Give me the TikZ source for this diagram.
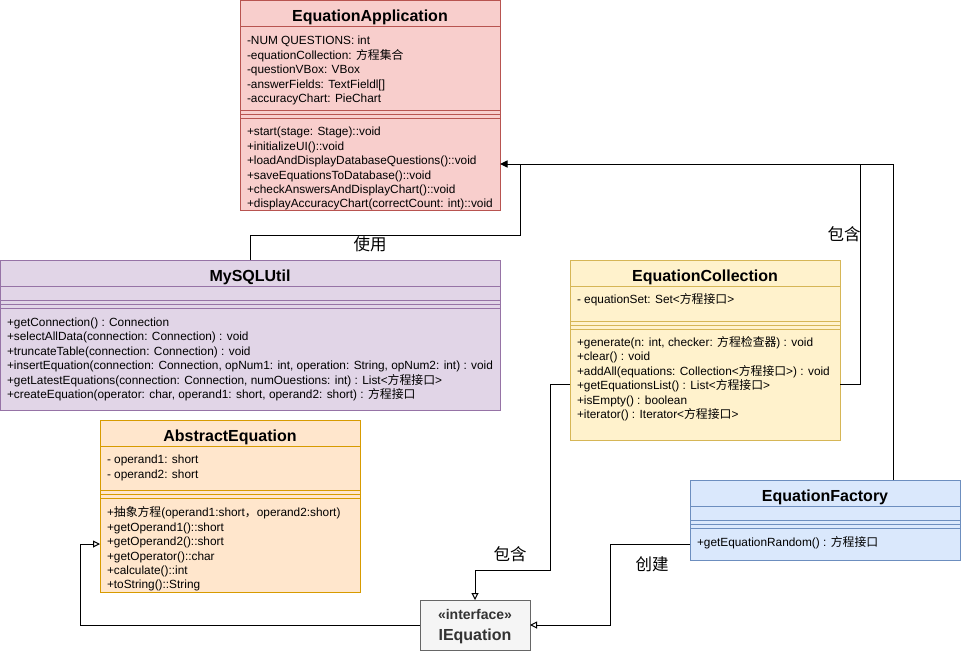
\documentclass[tikz,border=0pt]{standalone}
\usepackage{fontspec}
\setmainfont{Liberation Sans}
\newfontfamily\cjk{Noto Sans CJK SC}
\usetikzlibrary{arrows.meta}

\definecolor{appFill}{HTML}{F8CECC}
\definecolor{appLine}{HTML}{B85450}
\definecolor{sqlFill}{HTML}{E1D5E7}
\definecolor{sqlLine}{HTML}{9673A6}
\definecolor{colFill}{HTML}{FFF2CC}
\definecolor{colLine}{HTML}{D6B656}
\definecolor{absFill}{HTML}{FFE6CC}
\definecolor{absLine}{HTML}{D79B00}
\definecolor{facFill}{HTML}{DAE8FC}
\definecolor{facLine}{HTML}{6C8EBF}
\definecolor{ieqFill}{HTML}{F5F5F5}
\definecolor{ieqLine}{HTML}{666666}
\definecolor{ieqText}{HTML}{333333}

\newcommand\zh[1]{{\cjk #1}}
\newcommand\fl{\rule{0pt}{11pt}}

\begin{document}
\begin{tikzpicture}[
  x=1pt, y=-1pt,
  line width=1pt,
  cls/.style={draw, anchor=north west, inner sep=0pt, outer sep=0pt},
  ttl/.style={anchor=base, inner sep=0pt, font=\bfseries\fontsize{16}{19}\selectfont},
  mbr/.style={anchor=north west, inner sep=0pt, align=left, font=\fontsize{11.85}{14.4}\selectfont},
  tag/.style={inner sep=0pt, font=\cjk\fontsize{16.5}{19}\selectfont},
  link/.style={draw=black, line width=1pt},
  fillhead/.style={link, -{Triangle[length=7.5pt, width=7pt]}},
  openhead/.style={link, -{Triangle[open, length=7pt, width=7pt]}}
]
\useasboundingbox (0,0) rectangle (961,651);

% EquationApplication
\node[cls, fill=appFill, draw=appLine, minimum width=260pt, minimum height=210pt] (app) at (240,0) {};
\foreach \y in {26,110,114,118} \draw[appLine] (app.west |- 0,\y) -- (app.east |- 0,\y);
\node[ttl] (appName) at (370,21.7) {EquationApplication};
\node[mbr] (appAttr) at (246.5,33.3) {\fl-NUM QUESTIONS: int\\-equationCollection: \zh{方程集合}\\-questionVBox: VBox\\-answerFields: TextFieldl[]\\-accuracyChart: PieChart};
\node[mbr] (appOps) at (246.5,124.3) {\fl+start(stage: Stage)::void\\+initializeUI()::void\\+loadAndDisplayDatabaseQuestions()::void\\+saveEquationsToDatabase()::void\\+checkAnswersAndDisplayChart()::void\\+displayAccuracyChart(correctCount: int)::void};

% MySQLUtil
\node[cls, fill=sqlFill, draw=sqlLine, minimum width=500pt, minimum height=150pt] (sql) at (0,260) {};
\foreach \y in {286,300,304,308} \draw[sqlLine] (sql.west |- 0,\y) -- (sql.east |- 0,\y);
\node[ttl] (sqlName) at (250,281.7) {MySQLUtil};
\node[mbr] (sqlOps) at (6.5,315) {\fl+getConnection() : Connection\\+selectAllData(connection: Connection) : void\\+truncateTable(connection: Connection) : void\\+insertEquation(connection: Connection, opNum1: int, operation: String, opNum2: int) : void\\+getLatestEquations(connection: Connection, numOuestions: int) : List<\zh{方程接口}>\\+createEquation(operator: char, operand1: short, operand2: short) : \zh{方程接口}};

% EquationCollection
\node[cls, fill=colFill, draw=colLine, minimum width=270pt, minimum height=180pt] (col) at (570,260) {};
\foreach \y in {286,321,325,329} \draw[colLine] (col.west |- 0,\y) -- (col.east |- 0,\y);
\node[ttl] (colName) at (705,281.7) {EquationCollection};
\node[mbr] (colAttr) at (576.5,292.3) {\fl- equationSet: Set<\zh{方程接口}>};
\node[mbr] (colOps) at (576.5,335) {\fl+generate(n: int, checker: \zh{方程检查器}) : void\\+clear() : void\\+addAll(equations: Collection<\zh{方程接口}>) : void\\+getEquationsList() : List<\zh{方程接口}>\\+isEmpty() : boolean\\+iterator() : Iterator<\zh{方程接口}>};

% AbstractEquation
\node[cls, fill=absFill, draw=absLine, minimum width=260pt, minimum height=172pt] (abs) at (100,420) {};
\foreach \y in {446,490,494,498} \draw[absLine] (abs.west |- 0,\y) -- (abs.east |- 0,\y);
\node[ttl] (absName) at (230,441.7) {AbstractEquation};
\node[mbr] (absAttr) at (106.5,452.3) {\fl- operand1: short\\- operand2: short};
\node[mbr] (absOps) at (106.5,505.3) {\fl+\zh{抽象方程}(operand1:short\zh{，}operand2:short)\\+getOperand1()::short\\+getOperand2()::short\\+getOperator()::char\\+calculate()::int\\+toString()::String};

% EquationFactory
\node[cls, fill=facFill, draw=facLine, minimum width=270pt, minimum height=80pt] (fac) at (690,480) {};
\foreach \y in {506,520,524,528} \draw[facLine] (fac.west |- 0,\y) -- (fac.east |- 0,\y);
\node[ttl] (facName) at (825,501.5) {EquationFactory};
\node[mbr] (facOps) at (696.5,535.3) {\fl+getEquationRandom() : \zh{方程接口}};

% IEquation
\node[cls, fill=ieqFill, draw=ieqLine, minimum width=110pt, minimum height=50pt] (ieq) at (420,600) {};
\node[anchor=base, inner sep=0pt, text=ieqText, font=\bfseries\fontsize{14}{17}\selectfont] (ieqKind) at (475,619.3) {«interface»};
\node[ttl, text=ieqText] (ieqName) at (475,640.7) {IEquation};

% connectors
\coordinate (hub) at (520,164);
\draw[link] (sql.north) -- ++(0,-25) -| (hub);
\draw[link] ([yshift=-34pt]col.east) -- ++(20,0) |- (hub);
\draw[link] ([xshift=68pt]fac.north) |- (hub);
\draw[fillhead] (hub) -- (app.east |- hub);
\draw[openhead] ([yshift=-34pt]col.west) -- ++(-20,0) -- ++(0,186) -| (ieq.north);
\draw[openhead] ([yshift=-24pt]fac.west) -- ++(-80,0) |- (ieq.east);
\draw[openhead] (ieq.west) -- ++(-340,0) |- ([yshift=-38pt]abs.west);

% labels
\node[tag] (useLbl) at (370,244.5) {使用};
\node[tag] (hasTop) at (844,234) {包含};
\node[tag] (hasLow) at (510,554) {包含};
\node[tag] (mkLbl) at (652,564.5) {创建};
\end{tikzpicture}
\end{document}
